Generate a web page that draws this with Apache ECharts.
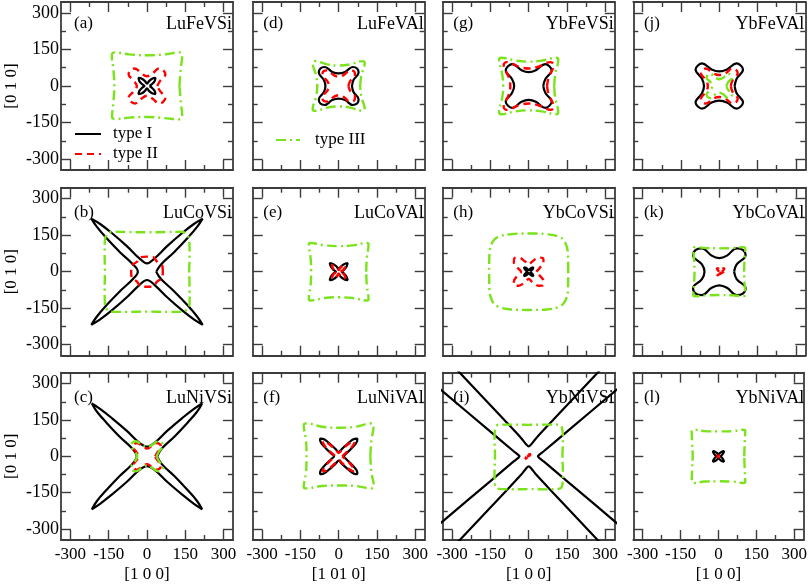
<!DOCTYPE html>
<html><head><meta charset="utf-8">
<script src="https://cdn.jsdelivr.net/npm/echarts@6/dist/echarts.min.js"></script>
<style>html,body{margin:0;padding:0;background:#fff}#c{width:810px;height:584px}</style>
</head><body><div id="c"></div>
<script>
// ---------- data (units of the [1 0 0] / [0 1 0] axes) ----------
const tickMajor = [-300, -150, 0, 150, 300];
const tickMinor = [-225, -75, 75, 225];
const panelLabels = ['(a)','(b)','(c)','(d)','(e)','(f)','(g)','(h)','(i)','(j)','(k)','(l)'];
const compounds = ['LuFeVSi','LuCoVSi','LuNiVSi','LuFeVAl','LuCoVAl','LuNiVAl','YbFeVSi','YbCoVSi','YbNiVSi','YbFeVAl','YbCoVAl','YbNiVAl'];
const xNames = ['[1 0 0]','[1 01 0]','[1 0 0]','[1 0 0]'];
const yName = '[0 1 0]';
const seriesNames = ['type I','type II','type III'];

const LuFeVSi_I = [[10,0],[20,8],[30,20],[33,33],[20,30],[8,20],[0,10],[-8,20],[-20,30],[-33,33],[-30,20],[-20,8],[-10,0],[-20,-8],[-30,-20],[-33,-33],[-20,-30],[-8,-20],[0,-10],[8,-20],[20,-30],[33,-33],[30,-20],[20,-8],[10,0]];
const LuFeVSi_II = [[40,0],[52,22],[72,48],[64,64],[48,72],[22,52],[0,40],[-22,52],[-48,72],[-64,64],[-72,48],[-52,22],[-40,0],[-52,-22],[-72,-48],[-64,-64],[-48,-72],[-22,-52],[0,-40],[22,-52],[48,-72],[64,-64],[72,-48],[52,-22],[40,0]];
const LuFeVSi_III = [[127,0],[132,70],[138,128],[128,138],[70,130],[0,126],[-70,130],[-128,138],[-138,126],[-132,70],[-128,0],[-132,-70],[-137,-125],[-126,-136],[-70,-130],[0,-127],[70,-132],[128,-137],[138,-126],[133,-70],[127,0]];

const LuCoVSi_I = [[36,0],[55,30],[105,79],[159,138],[197,185],[218,218],[185,197],[138,159],[79,105],[30,55],[0,34],[-30,55],[-79,105],[-138,159],[-185,197],[-218,218],[-197,185],[-159,138],[-105,79],[-55,30],[-36,0],[-55,-30],[-105,-79],[-159,-138],[-197,-185],[-218,-218],[-185,-197],[-138,-159],[-79,-105],[-30,-55],[0,-34],[30,-55],[79,-105],[138,-159],[185,-197],[218,-218],[197,-185],[159,-138],[105,-79],[55,-30],[36,0]];
const LuCoVSi_II = [[62,0],[60,24],[40,40],[24,60],[0,62],[-24,60],[-40,40],[-60,24],[-62,0],[-60,-24],[-40,-40],[-24,-60],[0,-62],[24,-60],[40,-40],[60,-24],[62,0]];
const LuCoVSi_III = [[165,0],[167,80],[165,130],[155,155],[130,164],[80,163],[0,162],[-80,163],[-130,164],[-155,155],[-165,130],[-166,80],[-165,0],[-166,-80],[-165,-130],[-155,-157],[-130,-165],[-80,-165],[0,-164],[80,-165],[130,-165],[157,-155],[167,-130],[167,-80],[165,0]];

const LuNiVSi_I = [[40,0],[58,32],[106,80],[158,138],[196,184],[216,218],[184,196],[138,158],[80,106],[32,58],[0,40],[-32,58],[-80,106],[-138,158],[-184,196],[-216,218],[-196,184],[-158,138],[-106,80],[-58,32],[-40,0],[-58,-32],[-106,-80],[-158,-138],[-196,-184],[-216,-218],[-184,-196],[-138,-158],[-80,-106],[-32,-58],[0,-40],[32,-58],[80,-106],[138,-158],[184,-196],[216,-218],[196,-184],[158,-138],[106,-80],[58,-32],[40,0]];
const LuNiVSi_II = [[32,0],[40,15],[55,40],[50,50],[40,55],[15,40],[0,32],[-15,40],[-40,55],[-50,50],[-55,40],[-40,15],[-32,0],[-40,-15],[-55,-40],[-50,-50],[-40,-55],[-15,-40],[0,-32],[15,-40],[40,-55],[50,-50],[55,-40],[40,-15],[32,0]];
const LuNiVSi_III = [[38,0],[46,18],[62,45],[57,57],[45,62],[18,46],[0,38],[-18,46],[-45,62],[-57,57],[-62,45],[-46,18],[-38,0],[-46,-18],[-62,-45],[-57,-57],[-45,-62],[-18,-46],[0,-38],[18,-46],[45,-62],[57,-57],[62,-45],[46,-18],[38,0]];

const LuFeVAl_I = [[52,0],[58,25],[78,55],[72,72],[55,78],[25,58],[0,52],[-25,58],[-55,78],[-72,72],[-78,55],[-58,25],[-52,0],[-58,-25],[-78,-55],[-72,-72],[-55,-78],[-25,-58],[0,-52],[25,-58],[55,-78],[72,-72],[78,-55],[58,-25],[52,0]];
const LuFeVAl_II = [[38,0],[45,20],[64,45],[60,60],[45,64],[20,45],[0,38],[-20,45],[-45,64],[-60,60],[-64,45],[-45,20],[-38,0],[-45,-20],[-64,-45],[-60,-60],[-45,-64],[-20,-45],[0,-38],[20,-45],[45,-64],[60,-60],[64,-45],[45,-20],[38,0]];
const LuFeVAl_III = [[84,0],[89,45],[102,94],[94,102],[45,89],[0,84],[-45,89],[-94,102],[-102,94],[-89,45],[-84,0],[-89,-45],[-102,-94],[-94,-102],[-45,-89],[0,-84],[45,-89],[94,-102],[102,-94],[89,-45],[84,0]];

const LuCoVAl_I = [[11,0],[21,8],[31,21],[35,35],[21,31],[8,21],[0,11],[-8,21],[-21,31],[-35,35],[-31,21],[-21,8],[-11,0],[-21,-8],[-31,-21],[-35,-35],[-21,-31],[-8,-21],[0,-11],[8,-21],[21,-31],[35,-35],[31,-21],[21,-8],[11,0]];
const LuCoVAl_II = [[7,0],[15,5],[23,15],[27,27],[15,23],[5,15],[0,7],[-5,15],[-15,23],[-27,27],[-23,15],[-15,5],[-7,0],[-15,-5],[-23,-15],[-27,-27],[-15,-23],[-5,-15],[0,-7],[5,-15],[15,-23],[27,-27],[23,-15],[15,-5],[7,0]];
const LuCoVAl_III = [[108,0],[110,55],[117,112],[110,118],[55,108],[0,105],[-55,108],[-110,118],[-117,112],[-110,55],[-108,0],[-110,-55],[-117,-112],[-110,-118],[-55,-108],[0,-105],[55,-108],[110,-118],[117,-112],[110,-55],[108,0]];

const LuNiVAl_I = [[18,0],[30,12],[54,37],[72,62],[73,73],[62,72],[37,54],[12,30],[0,18],[-12,30],[-37,54],[-62,72],[-73,73],[-72,62],[-54,37],[-30,12],[-18,0],[-30,-12],[-54,-37],[-72,-62],[-73,-73],[-62,-72],[-37,-54],[-12,-30],[0,-18],[12,-30],[37,-54],[62,-72],[73,-73],[72,-62],[54,-37],[30,-12],[18,0]];
const LuNiVAl_II = [[14,0],[24,10],[46,32],[60,52],[62,62],[52,60],[32,46],[10,24],[0,14],[-10,24],[-32,46],[-52,60],[-62,62],[-60,52],[-46,32],[-24,10],[-14,0],[-24,-10],[-46,-32],[-60,-52],[-62,-62],[-52,-60],[-32,-46],[-10,-24],[0,-14],[10,-24],[32,-46],[52,-60],[62,-62],[60,-52],[46,-32],[24,-10],[14,0]];
const LuNiVAl_III = [[124,0],[128,65],[137,128],[128,136],[65,122],[0,118],[-65,122],[-128,136],[-137,128],[-128,65],[-126,0],[-128,-65],[-137,-126],[-128,-132],[-65,-122],[0,-120],[65,-122],[128,-132],[138,-126],[128,-65],[124,0]];

const YbFeVSi_I = [[57,0],[65,28],[90,65],[81,81],[65,90],[28,65],[0,57],[-28,65],[-65,90],[-81,81],[-90,65],[-65,28],[-57,0],[-65,-28],[-90,-65],[-81,-81],[-65,-90],[-28,-65],[0,-57],[28,-65],[65,-90],[81,-81],[90,-65],[65,-28],[57,0]];
const YbFeVSi_II = [[72,0],[78,35],[98,86],[86,98],[35,78],[0,72],[-35,78],[-86,98],[-98,86],[-78,35],[-72,0],[-78,-35],[-98,-86],[-86,-98],[-35,-78],[0,-72],[35,-78],[86,-98],[98,-86],[78,-35],[72,0]];
const YbFeVSi_III = [[100,0],[104,50],[116,108],[108,116],[50,104],[0,100],[-50,104],[-108,116],[-116,108],[-104,50],[-100,0],[-104,-50],[-116,-108],[-108,-116],[-50,-104],[0,-100],[50,-104],[108,-116],[116,-108],[104,-50],[100,0]];

const YbCoVSi_I = [[6,0],[11,5],[16,11],[18,18],[11,16],[5,11],[0,6],[-5,11],[-11,16],[-18,18],[-16,11],[-11,5],[-6,0],[-11,-5],[-16,-11],[-18,-18],[-11,-16],[-5,-11],[0,-6],[5,-11],[11,-16],[18,-18],[16,-11],[11,-5],[6,0]];
const YbCoVSi_II = [[30,0],[42,14],[58,40],[56,56],[40,58],[14,42],[0,30],[-14,42],[-40,58],[-56,56],[-58,40],[-42,14],[-30,0],[-42,-14],[-58,-40],[-56,-56],[-40,-58],[-14,-42],[0,-30],[14,-42],[40,-58],[56,-56],[58,-40],[42,-14],[30,0]];
const YbCoVSi_III = [[155,0],[154,70],[143,120],[120,143],[70,154],[0,157],[-70,154],[-120,143],[-143,120],[-154,70],[-155,0],[-154,-70],[-143,-120],[-120,-143],[-70,-155],[0,-157],[70,-155],[120,-143],[143,-120],[154,-70],[155,0]];

const YbNiVSi_I_top = [[-360,450],[-270,345],[-100,155],[-30,76],[-10,50],[0,41],[10,50],[30,76],[100,155],[270,345],[360,450]];
const YbNiVSi_I_left = [[-440,360],[-337,268],[-150,102],[-60,22],[-42,7],[-36,0],[-42,-7],[-60,-22],[-150,-102],[-337,-268],[-440,-360]];
const YbNiVSi_I_right = [[440,360],[337,268],[150,102],[60,22],[42,7],[36,0],[42,-7],[60,-22],[150,-102],[337,-268],[440,-360]];
const YbNiVSi_I_bottom = [[-360,-450],[-270,-345],[-100,-155],[-30,-76],[-10,-50],[0,-41],[10,-50],[30,-76],[100,-155],[270,-345],[360,-450]];
const YbNiVSi_II = [[0,0],[3,3],[6,7],[7,10],[4,9],[0,6],[-3,3],[-6,6],[-10,9],[-13,10],[-12,7],[-9,3],[-6,0],[-9,-3],[-12,-7],[-13,-10],[-10,-9],[-6,-6],[-3,-3],[0,-6],[4,-9],[7,-10],[6,-7],[3,-3],[0,0]];
const YbNiVSi_III = [[132,0],[134,70],[131,116],[116,131],[70,131],[0,130],[-70,131],[-116,131],[-131,116],[-134,70],[-132,0],[-134,-70],[-132,-118],[-118,-134],[-70,-136],[0,-135],[70,-136],[118,-134],[132,-118],[134,-70],[132,0]];

const YbFeVAl_I = [[60,0],[68,30],[93,68],[84,84],[68,93],[30,68],[0,60],[-30,68],[-68,93],[-84,84],[-93,68],[-68,30],[-60,0],[-68,-30],[-93,-68],[-84,-84],[-68,-93],[-30,-68],[0,-60],[30,-68],[68,-93],[84,-84],[93,-68],[68,-30],[60,0]];
const YbFeVAl_II = [[45,0],[52,24],[72,52],[66,66],[52,72],[24,52],[0,45],[-24,52],[-52,72],[-66,66],[-72,52],[-52,24],[-45,0],[-52,-24],[-72,-52],[-66,-66],[-52,-72],[-24,-52],[0,-45],[24,-52],[52,-72],[66,-66],[72,-52],[52,-24],[45,0]];
const YbFeVAl_III = [[28,0],[34,15],[50,35],[45,45],[35,50],[15,34],[0,28],[-15,34],[-35,50],[-45,45],[-50,35],[-34,15],[-28,0],[-34,-15],[-50,-35],[-45,-45],[-35,-50],[-15,-34],[0,-28],[15,-34],[35,-50],[45,-45],[50,-35],[34,-15],[28,0]];

const YbCoVAl_I = [[58,0],[68,30],[103,68],[92,90],[68,96],[30,66],[0,56],[-30,66],[-68,96],[-92,90],[-103,68],[-68,30],[-58,0],[-68,-30],[-103,-68],[-92,-90],[-68,-96],[-30,-66],[0,-56],[30,-66],[68,-96],[92,-90],[103,-68],[68,-30],[58,0]];
const YbCoVAl_II = [[9,0],[14,3],[18,9],[20,15],[14,13],[8,9],[5,4],[2,9],[-4,13],[-10,15],[-8,9],[-4,3],[1,0],[-4,-3],[-8,-9],[-10,-15],[-4,-13],[2,-9],[5,-4],[8,-9],[14,-13],[20,-15],[18,-9],[14,-3],[9,0]];
const YbCoVAl_III = [[97,0],[99,50],[102,95],[95,101],[50,97],[0,96],[-50,97],[-95,101],[-102,95],[-99,50],[-97,0],[-99,-50],[-102,-95],[-95,-101],[-50,-97],[0,-96],[50,-97],[95,-101],[102,-95],[99,-50],[97,0]];

const YbNiVAl_I = [[7,0],[13,5],[19,13],[22,22],[13,19],[5,13],[0,7],[-5,13],[-13,19],[-22,22],[-19,13],[-13,5],[-7,0],[-13,-5],[-19,-13],[-22,-22],[-13,-19],[-5,-13],[0,-7],[5,-13],[13,-19],[22,-22],[19,-13],[13,-5],[7,0]];
const YbNiVAl_II = [[4,0],[0,4],[-4,0],[0,-4],[4,0]];
const YbNiVAl_III = [[102,0],[104,55],[106,105],[100,110],[55,104],[0,103],[-55,104],[-100,110],[-106,105],[-104,55],[-102,0],[-104,-55],[-106,-105],[-100,-110],[-55,-104],[0,-103],[55,-104],[100,-110],[106,-105],[104,-55],[102,0]];

// panel index -> curves [type I list, type II, type III]
const panelCurves = [
  [[LuFeVSi_I], [LuFeVSi_II], [LuFeVSi_III]],
  [[LuCoVSi_I], [LuCoVSi_II], [LuCoVSi_III]],
  [[LuNiVSi_I], [LuNiVSi_II], [LuNiVSi_III]],
  [[LuFeVAl_I], [LuFeVAl_II], [LuFeVAl_III]],
  [[LuCoVAl_I], [LuCoVAl_II], [LuCoVAl_III]],
  [[LuNiVAl_I], [LuNiVAl_II], [LuNiVAl_III]],
  [[YbFeVSi_I], [YbFeVSi_II], [YbFeVSi_III]],
  [[YbCoVSi_I], [YbCoVSi_II], [YbCoVSi_III]],
  [[YbNiVSi_I_top, YbNiVSi_I_left, YbNiVSi_I_right, YbNiVSi_I_bottom], [YbNiVSi_II], [YbNiVSi_III]],
  [[YbFeVAl_I], [YbFeVAl_II], [YbFeVAl_III]],
  [[YbCoVAl_I], [YbCoVAl_II], [YbCoVAl_III]],
  [[YbNiVAl_I], [YbNiVAl_II], [YbNiVAl_III]]
];

// ---------- layout / style ----------
const XR = 337, YR = 345;
const colLeft = [61, 252.7, 442.7, 633.3];
const rowTop = [2, 187.7, 372.7];
const GW = 172, GH = 168;
const labelY = [24, 213, 398];
const FRAME = '#3c3c3c';
const FONT = '"Liberation Serif", "Times New Roman", serif';
const colors = ['#000000', '#ff0000', '#7be31c'];
const widths = [2.2, 2.4, 2.4];
const dashes = ['solid', [7, 5], [10, 4, 2, 4]];

const grids = [], xAxes = [], yAxes = [], series = [], texts = [];
const tickStyle = {color: FRAME, width: 1.4};
const lineStyleFrame = {color: FRAME, width: 1.8};
const txt = {fontFamily: FONT, fontSize: 17, color: '#000'};
const txtY = {fontFamily: FONT, fontSize: 18, color: '#000'};

for (let p = 0; p < 12; p++) {
  const col = Math.floor(p / 3), row = p % 3;
  grids.push({left: colLeft[col], top: rowTop[row], width: GW, height: GH, containLabel: false});
  const xb = {gridIndex: p, type: 'value', min: -XR, max: XR, splitLine: {show: false}};
  const yb = {gridIndex: p, type: 'value', min: -YR, max: YR, splitLine: {show: false}};
  xAxes.push(
    Object.assign({}, xb, {position: 'bottom', axisLine: {show: true, onZero: false, lineStyle: lineStyleFrame},
      axisTick: {show: true, inside: true, length: 10, customValues: tickMajor, lineStyle: tickStyle},
      axisLabel: {show: row === 2, customValues: tickMajor, margin: 6, ...txt},
      name: row === 2 ? xNames[col] : '', nameLocation: 'middle', nameGap: 26, nameTextStyle: txt}),
    Object.assign({}, xb, {position: 'bottom', axisLine: {show: false, onZero: false},
      axisTick: {show: true, inside: true, length: 5, customValues: tickMinor, lineStyle: tickStyle}, axisLabel: {show: false}}),
    Object.assign({}, xb, {position: 'top', axisLine: {show: true, onZero: false, lineStyle: lineStyleFrame},
      axisTick: {show: true, inside: true, length: 10, customValues: tickMajor, lineStyle: tickStyle}, axisLabel: {show: false}}),
    Object.assign({}, xb, {position: 'top', axisLine: {show: false, onZero: false},
      axisTick: {show: true, inside: true, length: 5, customValues: tickMinor, lineStyle: tickStyle}, axisLabel: {show: false}})
  );
  yAxes.push(
    Object.assign({}, yb, {position: 'left', axisLine: {show: true, onZero: false, lineStyle: lineStyleFrame},
      axisTick: {show: true, inside: true, length: 10, customValues: tickMajor, lineStyle: tickStyle},
      axisLabel: {show: col === 0, customValues: tickMajor, margin: 2, ...txtY},
      name: col === 0 ? yName : '', nameLocation: 'middle', nameGap: 41, nameRotate: 90, nameTextStyle: txt}),
    Object.assign({}, yb, {position: 'left', axisLine: {show: false, onZero: false},
      axisTick: {show: true, inside: true, length: 5, customValues: tickMinor, lineStyle: tickStyle}, axisLabel: {show: false}}),
    Object.assign({}, yb, {position: 'right', axisLine: {show: true, onZero: false, lineStyle: lineStyleFrame},
      axisTick: {show: true, inside: true, length: 10, customValues: tickMajor, lineStyle: tickStyle}, axisLabel: {show: false}}),
    Object.assign({}, yb, {position: 'right', axisLine: {show: false, onZero: false},
      axisTick: {show: true, inside: true, length: 5, customValues: tickMinor, lineStyle: tickStyle}, axisLabel: {show: false}})
  );
  for (let t = 0; t < 3; t++) {
    panelCurves[p][t].forEach(curve => {
      series.push({
        type: 'line', name: seriesNames[t], xAxisIndex: p * 4, yAxisIndex: p * 4,
        data: curve, symbol: 'none', smooth: p === 8 && t === 0 ? 0.3 : 0.4, clip: true,
        lineStyle: {color: colors[t], width: widths[t], type: dashes[t]},
        itemStyle: {color: colors[t]}, z: 3 + t, silent: true, animation: false
      });
    });
  }
  const lx = col === 0 ? colLeft[col] + 13 : colLeft[col] + 10.6;
  texts.push({type: 'text', x: lx, y: labelY[row], z: 1,
    style: {text: panelLabels[p], font: '17px ' + FONT, fill: '#000', textAlign: 'left', textVerticalAlign: 'middle'}});
  texts.push({type: 'text', x: colLeft[col] + GW - 1, y: labelY[row], z: 1,
    style: {text: compounds[p], font: '18px ' + FONT, fill: '#000', textAlign: 'right', textVerticalAlign: 'middle'}});
}

const legendCommon = {orient: 'vertical', itemWidth: 26, itemHeight: 14, itemGap: 3, padding: 0,
  textStyle: {fontFamily: FONT, fontSize: 17, color: '#000', padding: [0, 0, 0, 7]},
  itemStyle: {color: 'rgba(0,0,0,0)', borderWidth: 0}, selectedMode: false};

const chart = echarts.init(document.getElementById('c'), null, {renderer: 'canvas'});
chart.setOption({
  animation: false,
  backgroundColor: '#fff',
  grid: grids,
  xAxis: xAxes,
  yAxis: yAxes,
  legend: [
    Object.assign({}, legendCommon, {data: ['type I', 'type II'], left: 74, top: 125.5}),
    Object.assign({}, legendCommon, {data: ['type III'], left: 275, top: 131.5, itemWidth: 24, textStyle: Object.assign({}, legendCommon.textStyle, {padding: [0, 0, 0, 10]})})
  ],
  graphic: {elements: texts},
  series: series
});
</script>
</body></html>
